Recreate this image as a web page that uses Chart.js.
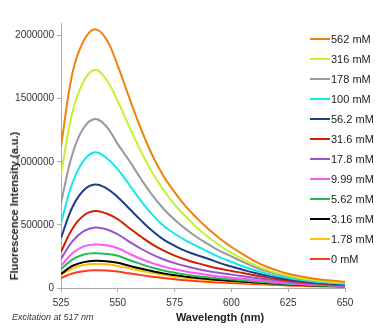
<!DOCTYPE html>
<html>
<head>
<meta charset="utf-8">
<script src="https://cdn.jsdelivr.net/npm/chart.js@4.4.1/dist/chart.umd.min.js"></script>
<style>
html,body{margin:0;padding:0;background:#fff;}
#wrap{position:relative;width:390px;height:335px;font-family:"Liberation Sans",Arial,Helvetica,sans-serif;color:#222;}
#c{position:absolute;left:0;top:0;}
.ytitle{position:absolute;left:14px;top:206px;transform:translate(-50%,-50%) rotate(-90deg);white-space:nowrap;font-weight:bold;font-size:11px;}
.xtitle{position:absolute;left:220px;top:317px;transform:translate(-50%,-50%);white-space:nowrap;font-weight:bold;font-size:11px;}
.note{position:absolute;left:12px;top:317px;transform:translateY(-50%);white-space:nowrap;font-style:italic;font-size:9px;color:#333;}
.lg{position:absolute;left:310px;height:14px;transform:translateY(-50%);display:flex;align-items:center;font-size:11px;white-space:nowrap;color:#222;}
.lg i{display:inline-block;width:20px;height:2px;margin-right:1px;}
</style>
</head>
<body>
<div id="wrap">
  <canvas id="c" width="390" height="335"></canvas>
  <div class="ytitle">Fluorescence Intensity (a.u.)</div>
  <div class="xtitle">Wavelength (nm)</div>
  <div class="note">Excitation at 517 nm</div>
  <div id="legend"></div>
</div>
<script>
// wavelength grid (nm) and tick values
var WAVE=[525,530,535,540,545,550,555,560,565,570,575,580,585,590,595,600,605,610,615,620,625,630,635,640,645,650];
var X_TICKS=[525,550,575,600,625,650];
var Y_TICKS=[0,500000,1000000,1500000,2000000];

var LABELS=['562 mM','316 mM','178 mM','100 mM','56.2 mM','31.6 mM','17.8 mM','9.99 mM','5.62 mM','3.16 mM','1.78 mM','0 mM'];
var COLORS=['#f0820a','#c8f02e','#999999','#11e8ee','#1a3e8c','#cc2200','#9955cc','#ff55ff','#22bb55','#000000','#ffc000','#ff3a1a'];

// intensities, in thousands (a.u.)
var I562 =[1120,1700,1960,2050,1970,1760,1510,1270,1060,890,760,645,550,465,390,325,268,215,172,140,113,93,78,66,57,50];
var I316 =[900,1390,1640,1730,1650,1480,1280,1090,920,780,660,565,475,400,335,278,228,183,148,120,97,80,66,56,48,42];
var I178 =[675,1060,1270,1340,1280,1140,1010,870,740,630,540,465,400,345,292,250,207,168,137,112,91,75,63,53,46,40];
var I100 =[516,830,1010,1075,1030,940,820,695,585,495,430,375,330,285,243,207,172,142,117,96,79,65,54,45,39,34];
var I56  =[397,640,775,820,790,720,630,540,455,385,335,292,260,230,197,170,145,121,101,83,69,57,48,40,34,30];
var I31  =[286,470,575,610,590,545,475,410,348,298,257,224,197,173,152,135,119,101,86,71,59,49,41,34,28,24];
var I17  =[230,370,450,480,465,425,368,313,267,228,197,172,151,133,118,106,94,82,70,59,49,41,34,28,24,20];
var I9   =[175,275,330,345,338,315,272,232,198,171,149,131,116,103,91,82,73,64,55,46,39,33,27,23,19,16];
var I5   =[150,225,265,275,270,255,222,191,162,139,121,106,94,84,75,67,60,52,45,38,32,27,23,19,16,14];
var I3   =[111,175,205,215,212,200,176,154,134,116,102,90,80,71,63,57,50,44,38,33,28,24,20,17,15,13];
var I1   =[103,155,182,190,188,175,156,137,120,105,92,81,72,64,57,51,45,40,35,30,26,22,19,16,14,12];
var I0   =[79,115,133,140,138,130,116,102,90,79,69,61,54,48,43,39,35,31,27,23,20,17,14,12,10,9];
var SERIES=[I562,I316,I178,I100,I56,I31,I17,I9,I5,I3,I1,I0];

var datasets=SERIES.map(function(s,i){
  return {label:LABELS[i],data:s.map(function(v,j){return {x:WAVE[j],y:v*1000};}),
    borderColor:COLORS[i],backgroundColor:COLORS[i],borderWidth:2,pointRadius:0,
    tension:0.4,fill:false};
});

// legend sits inside the plot's top-right corner
var lg=document.getElementById('legend');
LABELS.forEach(function(l,i){
  var d=document.createElement('div');d.className='lg';d.style.top=(38.5+i*20)+'px';
  d.innerHTML='<i style="background:'+COLORS[i]+'"></i>'+l;lg.appendChild(d);
});

var tickFont={family:'"Liberation Sans", Arial, sans-serif',size:10};
new Chart(document.getElementById('c'),{
  type:'line',
  data:{datasets:datasets},
  options:{
    responsive:false,animation:false,devicePixelRatio:1,
    layout:{padding:{left:0,right:45,top:23,bottom:27}},
    plugins:{legend:{display:false},tooltip:{enabled:false}},
    scales:{
      x:{type:'linear',min:525,max:650,
        afterBuildTicks:function(a){a.ticks=X_TICKS.map(function(v){return {value:v};});},
        afterFit:function(a){a.height=20;},
        grid:{drawOnChartArea:false,drawTicks:true,tickLength:4,color:'#aaa'},
        border:{display:true,color:'#aaa'},
        ticks:{font:tickFont,color:'#333',padding:5,maxRotation:0}},
      y:{min:0,max:2100000,
        afterBuildTicks:function(a){a.ticks=Y_TICKS.map(function(v){return {value:v};});},
        afterFit:function(a){a.width=61;},
        grid:{drawOnChartArea:false,drawTicks:true,tickLength:4,color:'#aaa'},
        border:{display:true,color:'#aaa'},
        ticks:{font:tickFont,color:'#333',padding:3,callback:function(v){return String(v);}}}
    }
  }
});
</script>
</body>
</html>
